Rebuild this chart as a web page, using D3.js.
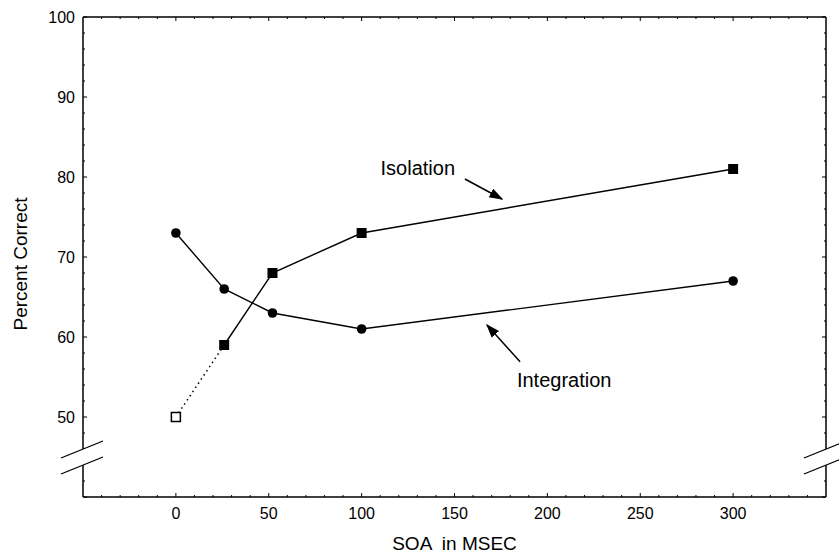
<!DOCTYPE html>
<html lang="en">
	<head>
		<meta charset="utf-8">
		<title> SOA chart </title>
		<script type="text/javascript" src="https://cdn.jsdelivr.net/npm/d3@7"></script>
		<style>
		body { margin: 0; background: white; }
		text { font-family: "Liberation Sans", Arial, sans-serif; fill: black; }
		</style>
	</head>
	<body>
		<script type="text/javascript">
			// data
			var integrationSoa = [0, 26, 52, 100, 300];
			var integration = [73, 66, 63, 61, 67];
			var isolationSoa = [26, 52, 100, 300];
			var isolation = [59, 68, 73, 81];
			var isolationStart = [0, 50];   // open square, dotted link
			var xTicks = [0, 50, 100, 150, 200, 250, 300];
			var yTicks = [50, 60, 70, 80, 90, 100];

			var w = 839;
			var h = 555;

			var x = d3.scaleLinear().domain([-50, 350]).range([83, 826]);
			var y = d3.scaleLinear().domain([40, 100]).range([497, 17]);
			var breakLo = 44, breakHi = 46;

			var svg = d3.select("body").append("svg")
				.attr("width", w)
				.attr("height", h);

			var defs = svg.append("defs");
			defs.append("marker")
				.attr("id", "arrow")
				.attr("viewBox", "0 0 10 10")
				.attr("refX", 9).attr("refY", 5)
				.attr("markerWidth", 14).attr("markerHeight", 14)
				.attr("markerUnits", "userSpaceOnUse")
				.attr("orient", "auto")
				.append("path")
				.attr("d", "M0,1.5 L10,5 L0,8.5 Z")
				.attr("fill", "black");

			var frame = svg.append("g")
				.attr("stroke", "black")
				.attr("stroke-width", 1.5)
				.attr("fill", "none");

			// top and bottom
			frame.append("line").attr("x1", x(-50)).attr("x2", x(350)).attr("y1", y(100)).attr("y2", y(100));
			frame.append("line").attr("x1", x(-50)).attr("x2", x(350)).attr("y1", y(40)).attr("y2", y(40));
			// left and right with a gap for the break
			[-50, 350].forEach(function(v) {
				frame.append("line").attr("x1", x(v)).attr("x2", x(v)).attr("y1", y(100)).attr("y2", y(breakHi));
				frame.append("line").attr("x1", x(v)).attr("x2", x(v)).attr("y1", y(breakLo)).attr("y2", y(40));
				[breakHi, breakLo].forEach(function(b) {
					frame.append("line")
						.attr("stroke-width", 1.3)
						.attr("x1", x(v) - 22).attr("y1", y(b) + 9)
						.attr("x2", x(v) + 20).attr("y2", y(b) - 8);
				});
			});

			// ticks, drawn inward on all sides
			var ticks = svg.append("g").attr("stroke", "black").attr("stroke-width", 1);
			d3.range(40, 100.1, 2).forEach(function(v) {
				if (v > breakLo - 1 && v < breakHi + 1) return;
				var len = v % 10 === 0 ? 4 : 2;
				ticks.append("line").attr("x1", x(-50)).attr("x2", x(-50) + len).attr("y1", y(v)).attr("y2", y(v));
				ticks.append("line").attr("x1", x(350)).attr("x2", x(350) - len).attr("y1", y(v)).attr("y2", y(v));
			});
			d3.range(-40, 350, 10).forEach(function(v) {
				var len = (v % 50 === 0 && v >= 0 && v <= 300) ? 4 : 2;
				ticks.append("line").attr("x1", x(v)).attr("x2", x(v)).attr("y1", y(40)).attr("y2", y(40) - len);
				ticks.append("line").attr("x1", x(v)).attr("x2", x(v)).attr("y1", y(100)).attr("y2", y(100) + len);
			});

			// tick labels
			svg.selectAll("text.xt").data(xTicks).enter().append("text")
				.attr("class", "xt")
				.attr("x", function(d) { return x(d); })
				.attr("y", y(40) + 22)
				.attr("text-anchor", "middle")
				.attr("font-size", "16px")
				.text(function(d) { return d; });

			svg.selectAll("text.yt").data(yTicks).enter().append("text")
				.attr("class", "yt")
				.attr("x", x(-50) - 8)
				.attr("y", function(d) { return y(d) + 6; })
				.attr("text-anchor", "end")
				.attr("font-size", "16px")
				.text(function(d) { return d; });

			// axis titles
			svg.append("text")
				.attr("x", x(150))
				.attr("y", 550)
				.attr("text-anchor", "middle")
				.attr("font-size", "19px")
				.attr("xml:space", "preserve")
				.text("SOA  in MSEC");

			svg.append("text")
				.attr("transform", "translate(27," + 264 + ") rotate(-90)")
				.attr("text-anchor", "middle")
				.attr("font-size", "19px")
				.text("Percent Correct");

			var line = d3.line()
				.x(function(d) { return x(d[0]); })
				.y(function(d) { return y(d[1]); });

			var intPts = integrationSoa.map(function(s, i) { return [s, integration[i]]; });
			var isoPts = isolationSoa.map(function(s, i) { return [s, isolation[i]]; });

			// dotted link from the open square
			svg.append("path")
				.attr("d", line([isolationStart, isoPts[0]]))
				.attr("fill", "none")
				.attr("stroke", "black")
				.attr("stroke-width", 1.5)
				.attr("stroke-dasharray", "1.5,3.5");

			[intPts, isoPts].forEach(function(pts) {
				svg.append("path")
					.attr("d", line(pts))
					.attr("fill", "none")
					.attr("stroke", "black")
					.attr("stroke-width", 1.4);
			});

			svg.selectAll("circle").data(intPts).enter().append("circle")
				.attr("cx", function(d) { return x(d[0]); })
				.attr("cy", function(d) { return y(d[1]); })
				.attr("r", 4.8)
				.attr("fill", "black");

			svg.selectAll("rect.iso").data(isoPts).enter().append("rect")
				.attr("class", "iso")
				.attr("x", function(d) { return x(d[0]) - 5; })
				.attr("y", function(d) { return y(d[1]) - 5; })
				.attr("width", 10)
				.attr("height", 10)
				.attr("fill", "black");

			svg.append("rect")
				.attr("x", x(isolationStart[0]) - 4.5)
				.attr("y", y(isolationStart[1]) - 4.5)
				.attr("width", 9)
				.attr("height", 9)
				.attr("fill", "white")
				.attr("stroke", "black")
				.attr("stroke-width", 1.5);

			// labels with arrows
			svg.append("text")
				.attr("x", x(150.3)).attr("y", y(80.25))
				.attr("text-anchor", "end")
				.attr("font-size", "20px")
				.text("Isolation");
			svg.append("line")
				.attr("x1", x(155.6)).attr("y1", y(79.75))
				.attr("x2", x(175.6)).attr("y2", y(77.25))
				.attr("stroke", "black").attr("stroke-width", 1.5)
				.attr("marker-end", "url(#arrow)");

			svg.append("text")
				.attr("x", x(183.6)).attr("y", y(53.75))
				.attr("font-size", "20px")
				.text("Integration");
			svg.append("line")
				.attr("x1", x(185.3)).attr("y1", y(56.9))
				.attr("x2", x(167.5)).attr("y2", y(61.5))
				.attr("stroke", "black").attr("stroke-width", 1.5)
				.attr("marker-end", "url(#arrow)");
		</script>
	</body>
</html>
